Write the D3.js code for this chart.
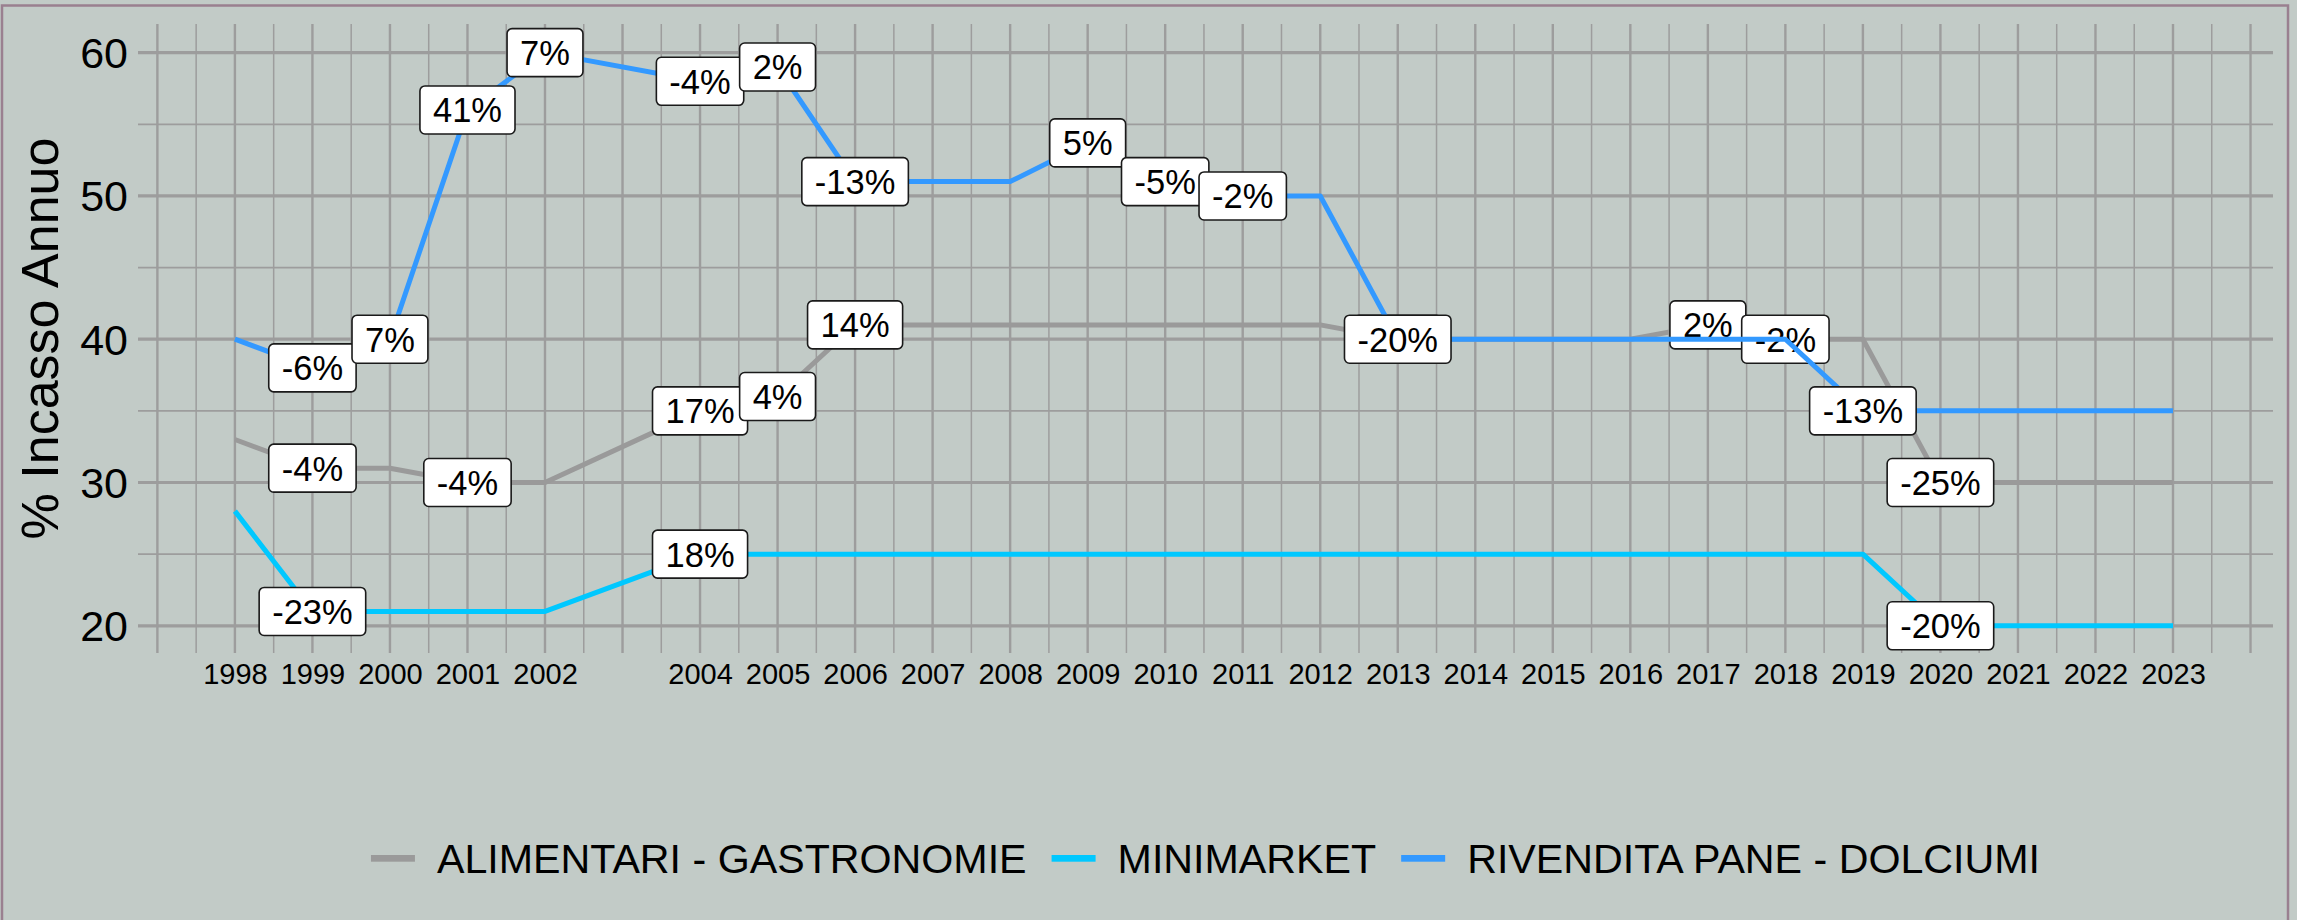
<!DOCTYPE html>
<html>
<head>
<meta charset="utf-8">
<script src="https://cdn.jsdelivr.net/npm/d3@7"></script>
<style>
  body { margin: 0; background: #c2cbc7; }
  svg { display: block; font-family: "Liberation Sans", Arial, sans-serif; }
</style>
</head>
<body>
<script>
var years = [1998, 1999, 2000, 2001, 2002, 2004, 2005, 2006, 2007, 2008, 2009, 2010, 2011,
             2012, 2013, 2014, 2015, 2016, 2017, 2018, 2019, 2020, 2021, 2022, 2023];

var alimentari = [33, 31, 31, 30, 30, 35, 36, 41, 41, 41, 41, 41, 41,
                  41, 40, 40, 40, 40, 41, 40, 40, 30, 30, 30, 30];
var alimentariLabels = ["", "-4%", "", "-4%", "", "17%", "4%", "14%", "", "", "", "", "",
                        "", "-2%", "", "", "", "2%", "-2%", "", "-25%", "", "", ""];

var minimarket = [28, 21, 21, 21, 21, 25, 25, 25, 25, 25, 25, 25, 25,
                  25, 25, 25, 25, 25, 25, 25, 25, 20, 20, 20, 20];
var minimarketLabels = ["", "-23%", "", "", "", "18%", "", "", "", "", "", "", "",
                        "", "", "", "", "", "", "", "", "-20%", "", "", ""];

var rivendita = [40, 38, 40, 56, 60, 58, 59, 51, 51, 51, 53.7, 51, 50,
                 50, 40, 40, 40, 40, 40, 40, 35, 35, 35, 35, 35];
var rivenditaLabels = ["", "-6%", "7%", "41%", "7%", "-4%", "2%", "-13%", "", "", "5%", "-5%", "-2%",
                       "", "-20%", "", "", "", "", "", "-13%", "", "", "", ""];

var seriesNames = ["ALIMENTARI - GASTRONOMIE", "MINIMARKET", "RIVENDITA PANE - DOLCIUMI"];
var seriesColors = ["#9a9a9a", "#00c8ff", "#3399ff"];
var yTicks = [20, 30, 40, 50, 60];

var series = [
    { name: seriesNames[0], color: seriesColors[0], values: alimentari, labels: alimentariLabels },
    { name: seriesNames[1], color: seriesColors[1], values: minimarket, labels: minimarketLabels },
    { name: seriesNames[2], color: seriesColors[2], values: rivendita, labels: rivenditaLabels }
];

var width = 2297,
    height = 920,
    plotLeft = 138, plotRight = 2273, plotTop = 24, plotBottom = 653;

var svg = d3.select("body")
            .append("svg")
            .attr("width", width)
            .attr("height", height);

svg.append("rect")
    .attr("x", 2).attr("y", 5.5)
    .attr("width", 2286).attr("height", 940)
    .attr("fill", "#c2cbc7")
    .attr("stroke", "#9a8090")
    .attr("stroke-width", 2.5);

var xScale = d3.scaleLinear()
                .domain([1996.75, 2024.29])
                .range([plotLeft, plotRight]);

var yScale = d3.scaleLinear()
                .domain([18.1, 62])
                .range([plotBottom, plotTop]);

// grid
var grid = svg.append("g");
grid.selectAll(".hminor")
    .data([25, 35, 45, 55])
    .enter().append("line")
    .attr("x1", plotLeft).attr("x2", plotRight)
    .attr("y1", function (d) { return yScale(d); })
    .attr("y2", function (d) { return yScale(d); })
    .attr("stroke", "#9d9d9d").attr("stroke-width", 1.8);
grid.selectAll(".hmajor")
    .data(yTicks)
    .enter().append("line")
    .attr("x1", plotLeft).attr("x2", plotRight)
    .attr("y1", function (d) { return yScale(d); })
    .attr("y2", function (d) { return yScale(d); })
    .attr("stroke", "#9d9d9d").attr("stroke-width", 3.2);
grid.selectAll(".vminor")
    .data(d3.range(1997.5, 2024, 1))
    .enter().append("line")
    .attr("y1", plotTop).attr("y2", plotBottom)
    .attr("x1", function (d) { return xScale(d); })
    .attr("x2", function (d) { return xScale(d); })
    .attr("stroke", "#9d9d9d").attr("stroke-width", 1.5);
grid.selectAll(".vmajor")
    .data(d3.range(1997, 2025, 1))
    .enter().append("line")
    .attr("y1", plotTop).attr("y2", plotBottom)
    .attr("x1", function (d) { return xScale(d); })
    .attr("x2", function (d) { return xScale(d); })
    .attr("stroke", "#9d9d9d").attr("stroke-width", 2.4);

// axes
var xAxis = d3.axisBottom(xScale)
              .tickValues(years)
              .tickFormat(d3.format("d"))
              .tickSize(0)
              .tickPadding(10);
var gx = svg.append("g")
    .attr("transform", "translate(0," + plotBottom + ")")
    .call(xAxis);
gx.select(".domain").remove();
gx.selectAll("text").attr("font-size", 29).attr("fill", "#000")
    .style("font-family", "'Liberation Sans', Arial, sans-serif");

var yAxis = d3.axisLeft(yScale)
              .tickValues(yTicks)
              .tickSize(0)
              .tickPadding(10);
var gy = svg.append("g")
    .attr("transform", "translate(" + plotLeft + ",0)")
    .call(yAxis);
gy.select(".domain").remove();
gy.selectAll("text").attr("font-size", 43).attr("fill", "#000")
    .attr("dy", "0.35em")
    .style("font-family", "'Liberation Sans', Arial, sans-serif");

svg.append("text")
    .attr("transform", "translate(58," + ((plotTop + plotBottom) / 2) + ") rotate(-90)")
    .attr("text-anchor", "middle")
    .attr("font-size", 52)
    .text("% Incasso Annuo");

// lines and labels, series by series
var line = d3.line()
    .x(function (d) { return xScale(d.x); })
    .y(function (d) { return yScale(d.y); });

series.forEach(function (s) {
    var pts = years.map(function (yr, i) {
        return { x: yr, y: s.values[i], label: s.labels[i] };
    });
    svg.append("path")
        .datum(pts)
        .attr("d", line)
        .attr("fill", "none")
        .attr("stroke", s.color)
        .attr("stroke-width", 5)
        .attr("stroke-linejoin", "round");

    var labs = svg.append("g")
        .selectAll("g")
        .data(pts.filter(function (d) { return d.label !== ""; }))
        .enter().append("g")
        .attr("transform", function (d) {
            return "translate(" + xScale(d.x) + "," + yScale(d.y) + ")";
        });
    labs.append("rect");
    var texts = labs.append("text")
        .attr("text-anchor", "middle")
        .attr("font-size", 34.5)
        .attr("y", 12.4)
        .text(function (d) { return d.label; });
    texts.each(function () {
        var w = this.getComputedTextLength() + 26;
        d3.select(this.parentNode).select("rect")
            .attr("x", -w / 2).attr("y", -24)
            .attr("width", w).attr("height", 48)
            .attr("rx", 5)
            .attr("fill", "#fff")
            .attr("stroke", "#1a1a1a")
            .attr("stroke-width", 1.6);
    });
});

// legend
var legend = svg.append("g");
var lx = 0;
seriesNames.forEach(function (name, i) {
    var item = legend.append("g").attr("transform", "translate(" + lx + ",0)");
    item.append("rect")
        .attr("x", 0).attr("y", 855)
        .attr("width", 44).attr("height", 6.7)
        .attr("fill", seriesColors[i]);
    var t = item.append("text")
        .attr("x", 66).attr("y", 873)
        .attr("font-size", 41.2)
        .text(name);
    lx += 66 + t.node().getComputedTextLength() + 25;
});
var total = lx - 25;
legend.attr("transform", "translate(" + ((plotLeft + plotRight) / 2 - total / 2) + ",0)");
</script>
</body>
</html>
